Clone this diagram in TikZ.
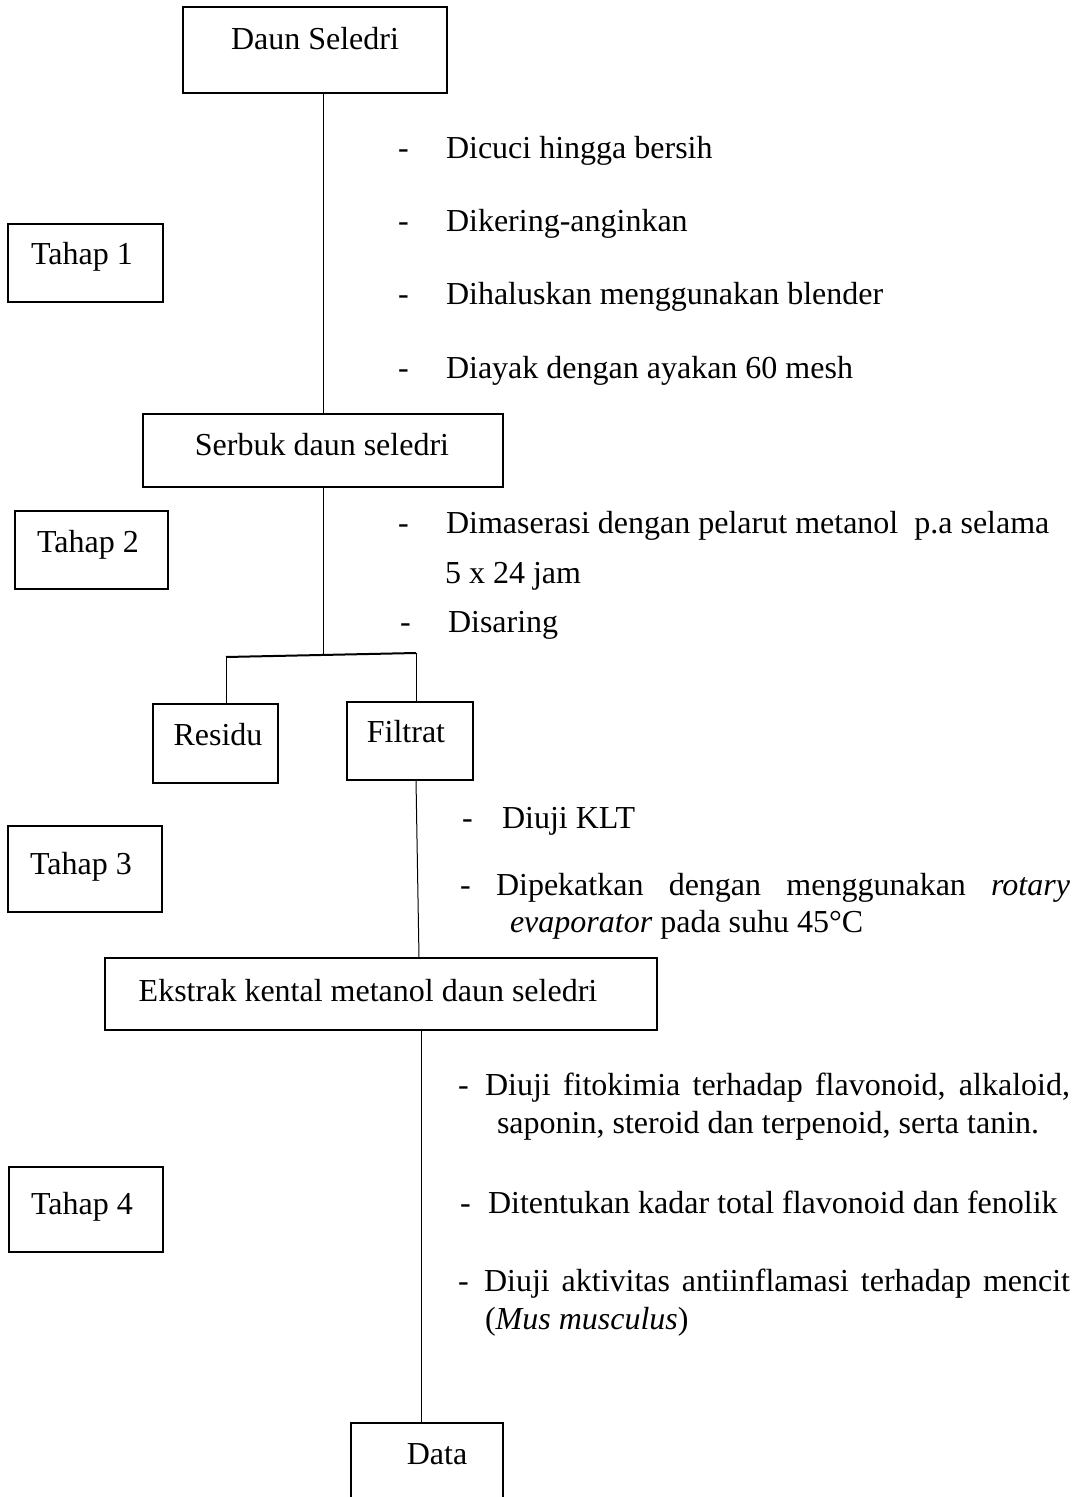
\documentclass[tikz,border=0pt]{standalone}
\usepackage{fontspec}
\setmainfont{Liberation Serif}
\usetikzlibrary{fit}
\tikzset{
  box/.style={draw, line width=0.7pt, inner sep=0pt, outer sep=0pt},
  lbl/.style={anchor=base, inner sep=0pt, outer sep=0pt, yshift=-1pt},
  lblw/.style={anchor=base west, inner sep=0pt, outer sep=0pt, yshift=-1pt},
  conn/.style={line width=0.5pt},
  bar/.style={line width=1pt}
}
\begin{document}
\begin{tikzpicture}[x=0.5pt, y=-0.5pt, font=\fontsize{16}{19}\selectfont]
\useasboundingbox (0,0) rectangle (1081,1497);
\clip (0,0) rectangle (1081,1497);
% main boxes
\node[box, fit={(183,7) (447,93)}] (daun) {};
\node[lbl] (tdaun) at (315,48) {Daun Seledri};
\node[box, fit={(143,414) (503,487)}] (serbuk) {};
\node[lbl] (tserbuk) at (322,453) {Serbuk daun seledri};
\node[box, fit={(153,704) (278,783)}] (residu) {};
\node[lbl] (tresidu) at (218,743) {Residu};
\node[box, fit={(347,702) (473,780)}] (filtrat) {};
\node[lbl] (tfiltrat) at (406,740) {Filtrat};
\node[box, fit={(105,958) (657,1030)}] (ekstrak) {};
\node[lbl] (tekstrak) at (368,999) {Ekstrak kental metanol daun seledri};
\node[box, fit={(351,1423) (503,1520)}] (data) {};
\node[lbl] (tdata) at (437,1462) {Data};
% stage boxes
\node[box, fit={(8,224) (163,302)}] (s1) {};
\node[lbl] (ts1) at (82,263) {Tahap 1};
\node[box, fit={(15,511) (168,589)}] (s2) {};
\node[lbl] (ts2) at (88,550) {Tahap 2};
\node[box, fit={(8,826) (162,912)}] (s3) {};
\node[lbl] (ts3) at (81,872) {Tahap 3};
\node[box, fit={(9,1167) (163,1252)}] (s4) {};
\node[lbl] (ts4) at (82,1212) {Tahap 4};
% connectors
\draw[conn] (daun.south -| serbuk.north) -- (serbuk.north);
\coordinate (jm) at (323,655);
\coordinate (jl) at (226,657);
\coordinate (jr) at (416,653);
\draw[conn] (serbuk.south) -- (jm);
\draw[bar] (jl) -- (jr);
\draw[conn] (jl) -- (jl |- residu.north);
\draw[conn] (jr) -- (jr |- filtrat.north);
\coordinate (fb) at (416,780);
\coordinate (et) at (419,958);
\draw[conn] (fb) -- (et);
\coordinate (eb) at (421,1030);
\draw[conn] (eb) -- (eb |- data.north);
% Tahap 1 steps
\foreach \yy/\tt in {157/Dicuci hingga bersih, 230/Dikering-anginkan, 303/Dihaluskan menggunakan blender, 377/Diayak dengan ayakan 60 mesh}{
  \node[lblw] at (398,\yy) {-};
  \node[lblw] at (446,\yy) {\tt};
}
% Tahap 2 steps
\node[lblw] (d21) at (398,531) {-};
\node[lblw] (t21) at (446,531) {Dimaserasi dengan pelarut metanol\ \ p.a selama};
\node[lblw] (t21b) at (445,581) {5 x 24 jam};
\node[lblw] (d22) at (400,630) {-};
\node[lblw] (t22) at (448,630) {Disaring};
% Tahap 3 steps
\node[lblw] (d31) at (462,826) {-};
\node[lblw] (t31) at (502,826) {Diuji KLT};
\node[lblw] (d32) at (460,893) {-};
\node[lblw] (t32) at (496,893) {\makebox[287pt][s]{Dipekatkan dengan menggunakan \textit{rotary}}};
\node[lblw] (t32b) at (510,930) {\textit{evaporator} pada suhu 45°C};
% Tahap 4 steps
\node[lblw] (d41) at (458,1093) {-};
\node[lblw] (t41) at (485,1093) {\makebox[292.5pt][s]{Diuji fitokimia terhadap flavonoid, alkaloid,}};
\node[lblw] (t41b) at (497,1131) {saponin, steroid dan terpenoid, serta tanin.};
\node[lblw] (d42) at (460,1211) {-};
\node[lblw] (t42) at (488,1211) {Ditentukan kadar total flavonoid dan fenolik};
\node[lblw] (d43) at (458,1289) {-};
\node[lblw] (t43) at (484,1289) {\makebox[293pt][s]{Diuji aktivitas antiinflamasi terhadap mencit}};
\node[lblw] (t43b) at (485,1327) {(\textit{Mus musculus})};
\end{tikzpicture}
\end{document}
